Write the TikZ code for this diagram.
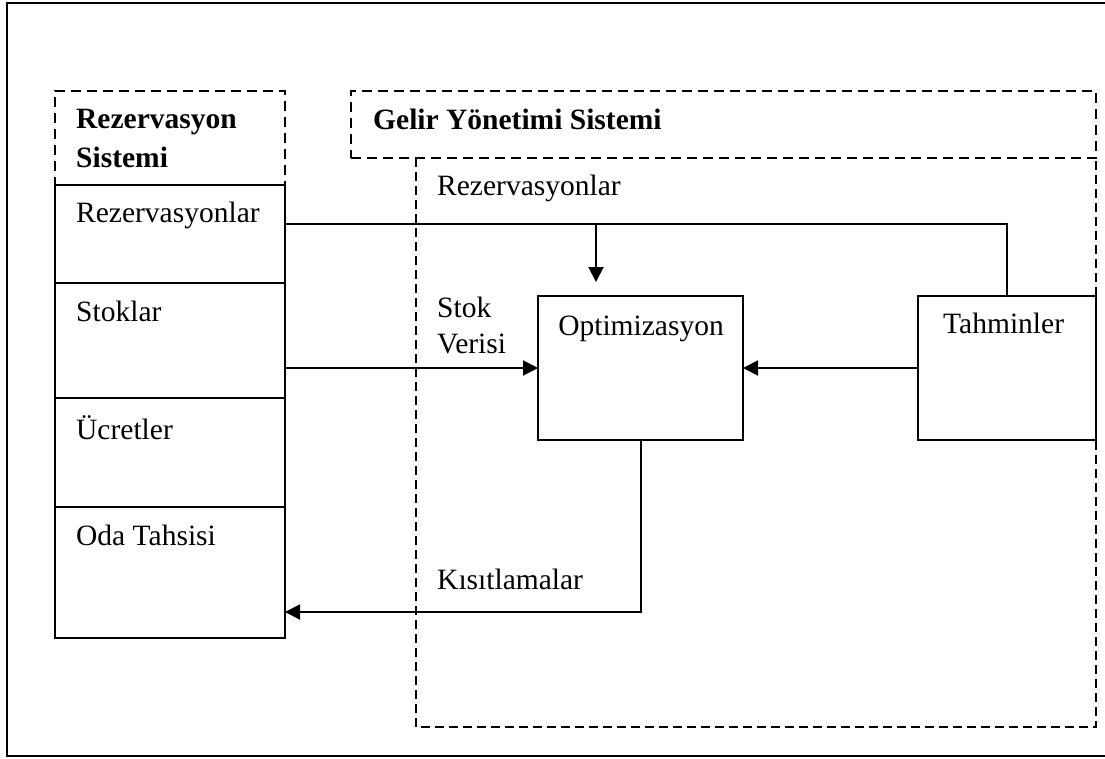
\documentclass[tikz,border=0pt]{standalone}
\usepackage{fontspec}
\setmainfont{Liberation Serif}
\usetikzlibrary{arrows.meta}
\begin{document}
\begin{tikzpicture}[x=1pt,y=-1pt,
  cell/.style={draw,line width=2pt,inner sep=0pt,outer sep=0pt,anchor=north west},
  hdash/.style={draw,line width=2.4pt,dash pattern=on 10pt off 6pt,inner sep=0pt,outer sep=0pt,anchor=north west},
  idash/.style={draw,line width=1.6pt,dash pattern=on 9pt off 5pt},
  lbl/.style={anchor=base west,inner sep=0pt,font=\fontsize{29.5}{34}\selectfont},
  blbl/.style={lbl,font=\fontsize{29.5}{34}\selectfont\bfseries},
  conn/.style={line width=2pt},
  arr/.style={conn,-{Triangle[length=15pt,width=15pt]}}]
\useasboundingbox (0,0) rectangle (1105,758);
% outer frame (right edge lies beyond the page)
\draw[line width=2pt] (7,3) rectangle (1112,756);
% dashed headers
\node[hdash,minimum width=230pt,minimum height=94pt] (rshead) at (55,91) {};
\node[hdash,minimum width=745pt,minimum height=67pt] (gyhead) at (351,91) {};
% inner dashed area
\draw[idash] (gyhead.south west -| 416,0) -- (416,727) -- (1096,727) -- (gyhead.south east);
% left column cells
\node[cell,minimum width=230pt,minimum height=98pt] (rez) at (55,185) {};
\node[cell,minimum width=230pt,minimum height=115pt] (stok) at (55,283) {};
\node[cell,minimum width=230pt,minimum height=109pt] (ucret) at (55,398) {};
\node[cell,minimum width=230pt,minimum height=131pt] (oda) at (55,507) {};
% right boxes
\node[cell,minimum width=205pt,minimum height=144pt] (opt) at (538,296) {};
\node[cell,minimum width=178pt,minimum height=144pt] (tah) at (918,296) {};
% texts
\node[blbl] (t1) at (76,128) {Rezervasyon};
\node[blbl] (t2) at (76,167) {Sistemi};
\node[blbl] (t3) at (373,129) {Gelir Yönetimi Sistemi};
\node[lbl] (t4) at (76,222) {Rezervasyonlar};
\node[lbl] (t5) at (76,321) {Stoklar};
\node[lbl] (t6) at (76,439) {Ücretler};
\node[lbl] (t7) at (76,545) {Oda Tahsisi};
\node[lbl] (t8) at (437,195) {Rezervasyonlar};
\node[lbl] (t9) at (437,317) {Stok};
\node[lbl] (t10) at (437,353) {Verisi};
\node[lbl,anchor=base] (t11) at (641,335) {Optimizasyon};
\node[lbl] (t12) at (943,333) {Tahminler};
\node[lbl] (t13) at (437,589) {Kısıtlamalar};
% connectors
\coordinate (rj) at (1007,224);
\coordinate (rdrop) at (596,224);
\coordinate (rtip) at (596,282);
\draw[conn] (rez.east |- rj) -- (rj) -- (rj |- tah.north);
\draw[arr] (rdrop) -- (rtip);
\draw[arr] (stok.east |- opt.west) -- (opt.west);
\draw[arr] (tah.west) -- (opt.east);
\coordinate (kc) at (opt.south |- 0,612);
\draw[arr] (opt.south) -- (kc) -- (oda.east |- kc);
\end{tikzpicture}
\end{document}
